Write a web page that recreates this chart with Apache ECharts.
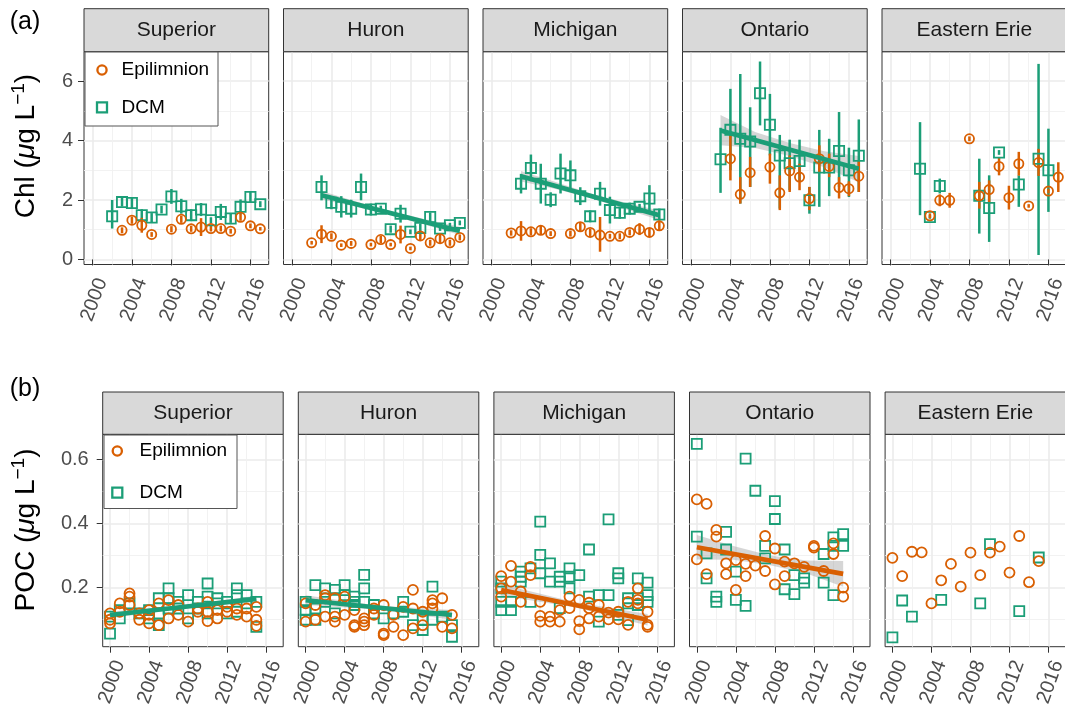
<!DOCTYPE html>
<html>
<head>
<meta charset="utf-8">
<script src="https://cdn.jsdelivr.net/npm/echarts@6/dist/echarts.min.js"></script>
<style>
html, body { margin: 0; padding: 0; background: #ffffff; }
#chart { width: 1065px; height: 711px; }
</style>
</head>
<body>
<div id="chart"></div>
<script>
// ---------- categories and tick labels ----------
const lakes = ['Superior', 'Huron', 'Michigan', 'Ontario', 'Eastern Erie'];
const layerNames = ['Epilimnion', 'DCM'];
const yearTicks = [2000, 2004, 2008, 2012, 2016];
const yearMinor = [2002, 2006, 2010, 2014];
const chlTicks = [0, 2, 4, 6];
const chlMinor = [1, 3, 5];
const pocTicks = [0.2, 0.4, 0.6];
const pocMinor = [0.1, 0.3, 0.5];

// ---------- (a) chlorophyll: [year, mean, low, high] ----------
const chlSupEpi = [[2003,0.98,0.88,1.08],[2004,1.32,1.20,1.44],[2005,1.15,0.90,1.40],[2006,0.84,0.76,0.92],[2008,1.02,0.92,1.12],[2009,1.35,1.23,1.47],[2010,1.03,0.93,1.13],[2011,1.09,0.79,1.39],[2012,1.04,0.94,1.14],[2013,1.04,0.94,1.14],[2014,0.95,0.87,1.03],[2015,1.42,1.30,1.54],[2016,1.13,1.05,1.21],[2017,1.03,0.97,1.09]];
const chlSupDcm = [[2002,1.45,1.04,2.00],[2003,1.93,1.78,2.08],[2004,1.90,1.70,2.10],[2005,1.49,1.29,1.69],[2006,1.41,1.26,1.56],[2007,1.68,1.55,1.81],[2008,2.12,1.87,2.37],[2009,1.79,1.54,2.04],[2010,1.49,1.29,1.69],[2011,1.68,1.46,1.90],[2012,1.32,1.22,1.42],[2013,1.60,1.33,1.87],[2014,1.38,1.23,1.53],[2015,1.77,1.52,2.02],[2016,2.10,1.92,2.28],[2017,1.86,1.76,1.96]];
const chlHurEpi = [[2002,0.56,0.50,0.62],[2003,0.85,0.55,1.15],[2004,0.78,0.68,0.88],[2005,0.48,0.42,0.54],[2006,0.54,0.46,0.62],[2008,0.50,0.44,0.56],[2009,0.67,0.55,0.79],[2010,0.50,0.44,0.56],[2011,0.84,0.54,1.14],[2012,0.37,0.31,0.43],[2013,0.79,0.64,0.94],[2014,0.56,0.46,0.66],[2015,0.70,0.55,0.85],[2016,0.56,0.46,0.66],[2017,0.74,0.64,0.84]];
const chlHurDcm = [[2003,2.44,1.99,2.83],[2004,1.91,1.69,2.13],[2005,1.77,1.41,2.13],[2006,1.71,1.41,2.01],[2007,2.44,1.99,2.89],[2008,1.68,1.48,1.88],[2009,1.71,1.61,1.81],[2010,1.02,0.90,1.14],[2011,1.54,1.24,1.84],[2012,0.93,0.85,1.01],[2013,1.06,0.91,1.21],[2014,1.43,1.28,1.58],[2015,1.04,0.96,1.12],[2016,1.15,1.07,1.23],[2017,1.23,1.15,1.31]];
const chlMicEpi = [[2002,0.89,0.80,0.98],[2003,0.96,0.63,1.29],[2004,0.93,0.81,1.05],[2005,0.98,0.83,1.13],[2006,0.87,0.79,0.95],[2008,0.87,0.77,0.97],[2009,1.10,0.95,1.25],[2010,0.91,0.79,1.03],[2011,0.82,0.26,1.43],[2012,0.78,0.70,0.86],[2013,0.78,0.68,0.88],[2014,0.91,0.81,1.01],[2015,1.02,0.82,1.22],[2016,0.91,0.76,1.06],[2017,1.13,0.98,1.28]];
const chlMicDcm = [[2003,2.55,2.22,2.88],[2004,3.08,2.63,3.53],[2005,2.55,1.88,3.22],[2006,2.01,1.76,2.26],[2007,2.89,2.22,3.56],[2008,2.83,2.33,3.33],[2009,2.13,1.83,2.43],[2010,1.45,1.25,1.65],[2011,2.21,1.81,2.61],[2012,1.66,1.21,2.11],[2013,1.57,1.37,1.77],[2014,1.71,1.51,1.91],[2015,1.77,1.67,1.87],[2016,2.05,1.60,2.50],[2017,1.51,1.31,1.71]];
const chlOntEpi = [[2004,3.39,2.66,4.23],[2005,2.19,1.88,2.77],[2006,2.92,2.44,3.45],[2008,3.11,2.55,3.56],[2009,2.24,1.66,2.83],[2010,2.98,2.27,3.50],[2011,2.77,2.33,3.22],[2012,2.05,1.66,2.44],[2013,3.39,2.94,3.84],[2014,3.13,2.77,3.56],[2015,2.42,2.05,2.77],[2016,2.38,2.13,2.63],[2017,2.80,2.27,3.33]];
const chlOntDcm = [[2003,3.37,2.24,4.43],[2004,4.36,3.00,5.74],[2005,4.06,1.88,6.24],[2006,3.97,2.44,5.12],[2007,5.59,4.51,6.66],[2008,4.53,3.50,5.57],[2009,3.50,1.71,4.19],[2010,3.24,2.33,4.03],[2011,3.31,2.61,4.03],[2012,1.99,1.54,2.44],[2013,3.09,1.77,4.36],[2014,3.09,2.13,4.06],[2015,3.65,2.44,4.96],[2016,3.00,2.10,3.76],[2017,3.49,2.27,4.71]];
const chlEriEpi = [[2004,1.47,1.39,1.55],[2005,1.99,1.79,2.19],[2006,1.99,1.74,2.24],[2008,4.06,3.98,4.14],[2009,2.14,1.71,2.61],[2010,2.35,1.88,2.66],[2011,3.13,2.83,3.43],[2012,2.08,1.68,2.48],[2013,3.22,2.82,3.62],[2014,1.80,1.74,1.86],[2015,3.26,2.81,3.72],[2016,2.30,2.22,2.38],[2017,2.77,2.27,3.27]];
const chlEriDcm = [[2003,3.05,1.49,4.62],[2004,1.43,1.37,1.49],[2005,2.47,2.22,2.72],[2009,2.14,0.87,3.39],[2010,1.73,0.59,2.83],[2011,3.60,3.52,3.68],[2013,2.52,1.77,2.83],[2015,3.39,0.15,6.58],[2016,3.00,1.60,4.40]];

// linear trends [year, fit] and confidence bands [year, low, high]
const chlHurTrend = [[2003,2.16],[2017,0.96]];
const chlMicTrend = [[2003,2.80],[2017,1.49]];
const chlOntTrend = [[2003,4.34],[2017,3.05]];
const chlHurBand = [[2003,2.02,2.30],[2006.5,1.77,1.95],[2010,1.49,1.63],[2013.5,1.17,1.35],[2017,0.82,1.10]];
const chlMicBand = [[2003,2.62,2.98],[2006.5,2.37,2.61],[2010,2.07,2.23],[2013.5,1.70,1.92],[2017,1.33,1.65]];
const chlOntBand = [[2003,3.84,4.86],[2006.5,3.75,4.29],[2010,3.48,3.92],[2013.5,3.10,3.64],[2017,2.60,3.48]];

// ---------- (b) particulate organic carbon: [year, value] ----------
const pocSupEpi = [[2000,0.12],[2000,0.10],[2000,0.089],[2001,0.151],[2001,0.125],[2002,0.182],[2002,0.172],[2002,0.146],[2003,0.10],[2003,0.12],[2004,0.13],[2004,0.115],[2004,0.089],[2005,0.151],[2005,0.083],[2006,0.161],[2006,0.104],[2007,0.146],[2007,0.115],[2008,0.094],[2009,0.135],[2009,0.125],[2010,0.156],[2010,0.125],[2010,0.096],[2011,0.13],[2011,0.104],[2012,0.14],[2012,0.125],[2013,0.135],[2013,0.115],[2014,0.135],[2014,0.11],[2015,0.14],[2015,0.10],[2015,0.081]];
const pocSupDcm = [[2000,0.057],[2000,0.11],[2001,0.104],[2001,0.13],[2002,0.151],[2003,0.12],[2004,0.13],[2004,0.104],[2005,0.167],[2005,0.12],[2005,0.083],[2006,0.198],[2006,0.167],[2006,0.135],[2007,0.156],[2007,0.135],[2008,0.177],[2008,0.104],[2009,0.156],[2009,0.135],[2010,0.213],[2010,0.172],[2010,0.12],[2011,0.167],[2011,0.151],[2012,0.156],[2012,0.12],[2013,0.198],[2013,0.177],[2013,0.125],[2014,0.177],[2014,0.151],[2015,0.156],[2015,0.078]];
const pocHurEpi = [[2000,0.151],[2000,0.094],[2001,0.146],[2001,0.10],[2002,0.177],[2002,0.167],[2002,0.11],[2003,0.167],[2003,0.11],[2003,0.094],[2004,0.172],[2004,0.115],[2005,0.13],[2005,0.083],[2005,0.078],[2006,0.104],[2006,0.094],[2006,0.083],[2007,0.135],[2007,0.115],[2008,0.146],[2008,0.057],[2008,0.052],[2009,0.115],[2009,0.078],[2010,0.14],[2010,0.052],[2011,0.193],[2011,0.135],[2011,0.073],[2012,0.125],[2012,0.083],[2013,0.161],[2013,0.151],[2013,0.135],[2014,0.167],[2014,0.078],[2015,0.115],[2015,0.073]];
const pocHurDcm = [[2000,0.156],[2000,0.13],[2000,0.10],[2001,0.208],[2001,0.135],[2001,0.10],[2002,0.198],[2002,0.156],[2003,0.193],[2003,0.167],[2003,0.12],[2004,0.208],[2004,0.177],[2004,0.161],[2005,0.172],[2005,0.156],[2005,0.146],[2006,0.24],[2006,0.198],[2006,0.156],[2007,0.146],[2007,0.12],[2008,0.104],[2009,0.12],[2010,0.156],[2010,0.125],[2011,0.083],[2012,0.10],[2012,0.068],[2013,0.203],[2013,0.10],[2014,0.11],[2015,0.083],[2015,0.047]];
const pocMicEpi = [[2000,0.236],[2000,0.198],[2000,0.172],[2001,0.268],[2001,0.219],[2002,0.188],[2002,0.156],[2003,0.265],[2003,0.239],[2004,0.156],[2004,0.112],[2004,0.094],[2005,0.11],[2005,0.094],[2006,0.13],[2006,0.094],[2007,0.172],[2007,0.136],[2008,0.162],[2008,0.096],[2008,0.07],[2009,0.153],[2009,0.136],[2009,0.104],[2010,0.146],[2010,0.11],[2011,0.122],[2011,0.101],[2012,0.125],[2012,0.101],[2013,0.156],[2013,0.084],[2014,0.198],[2014,0.162],[2014,0.151],[2015,0.125],[2015,0.084],[2015,0.078]];
const pocMicDcm = [[2000,0.219],[2000,0.198],[2000,0.156],[2000,0.13],[2001,0.156],[2001,0.13],[2002,0.25],[2002,0.234],[2002,0.219],[2003,0.26],[2003,0.156],[2004,0.406],[2004,0.302],[2004,0.245],[2005,0.276],[2005,0.219],[2006,0.234],[2006,0.219],[2006,0.136],[2007,0.26],[2007,0.234],[2007,0.198],[2008,0.239],[2009,0.319],[2009,0.172],[2010,0.177],[2010,0.094],[2011,0.413],[2011,0.177],[2012,0.245],[2012,0.229],[2012,0.115],[2013,0.167],[2013,0.151],[2013,0.099],[2014,0.229],[2014,0.167],[2014,0.146],[2015,0.216],[2015,0.177],[2015,0.156]];
const pocOntEpi = [[2000,0.475],[2000,0.288],[2001,0.461],[2001,0.242],[2002,0.38],[2002,0.359],[2003,0.276],[2003,0.242],[2004,0.286],[2004,0.193],[2005,0.274],[2005,0.236],[2006,0.269],[2007,0.361],[2007,0.252],[2008,0.322],[2008,0.21],[2009,0.281],[2009,0.236],[2010,0.276],[2011,0.265],[2012,0.33],[2012,0.325],[2013,0.252],[2014,0.338],[2014,0.305],[2015,0.20],[2015,0.172]];
const pocOntDcm = [[2000,0.648],[2000,0.359],[2001,0.307],[2001,0.229],[2002,0.172],[2002,0.156],[2003,0.374],[2003,0.319],[2004,0.25],[2004,0.162],[2005,0.602],[2005,0.143],[2006,0.502],[2007,0.33],[2007,0.291],[2008,0.47],[2008,0.414],[2009,0.319],[2009,0.195],[2010,0.239],[2010,0.18],[2011,0.229],[2011,0.216],[2013,0.305],[2013,0.216],[2014,0.357],[2014,0.33],[2014,0.177],[2015,0.367],[2015,0.33]];
const pocEriEpi = [[2000,0.293],[2001,0.236],[2002,0.312],[2003,0.31],[2004,0.151],[2005,0.223],[2006,0.274],[2007,0.203],[2008,0.309],[2009,0.239],[2010,0.309],[2011,0.328],[2012,0.247],[2013,0.361],[2014,0.217],[2015,0.283]];
const pocEriDcm = [[2000,0.045],[2001,0.16],[2002,0.11],[2005,0.162],[2009,0.151],[2010,0.336],[2013,0.127],[2015,0.294]];

const pocSupTrend = [[2000,0.115],[2015,0.165]];
const pocHurTrend = [[2000,0.161],[2015,0.115]];
const pocMicTrend = [[2000,0.193],[2015,0.100]];
const pocOntTrend = [[2000,0.326],[2015,0.243]];
const pocSupBand = [[2000,0.105,0.125],[2007.5,0.135,0.145],[2015,0.155,0.175]];
const pocHurBand = [[2000,0.146,0.176],[2007.5,0.132,0.144],[2015,0.100,0.130]];
const pocMicBand = [[2000,0.175,0.211],[2007.5,0.139,0.155],[2015,0.082,0.118]];
const pocOntBand = [[2000,0.288,0.364],[2003.75,0.287,0.330],[2007.5,0.270,0.300],[2011.25,0.244,0.285],[2015,0.203,0.283]];

// ---------- styling ----------
const ORANGE = '#D95F02';
const GREEN = '#1B9E77';
const FONT = '"Liberation Sans", Arial, Helvetica, sans-serif';
const BORDER = '#333333';

const chlPanels = [
  { epi: chlSupEpi, dcm: chlSupDcm },
  { epi: chlHurEpi, dcm: chlHurDcm, trend: chlHurTrend, band: chlHurBand, trendColor: GREEN },
  { epi: chlMicEpi, dcm: chlMicDcm, trend: chlMicTrend, band: chlMicBand, trendColor: GREEN },
  { epi: chlOntEpi, dcm: chlOntDcm, trend: chlOntTrend, band: chlOntBand, trendColor: GREEN },
  { epi: chlEriEpi, dcm: chlEriDcm }
];
const pocPanels = [
  { epi: pocSupEpi, dcm: pocSupDcm, trend: pocSupTrend, band: pocSupBand, trendColor: GREEN },
  { epi: pocHurEpi, dcm: pocHurDcm, trend: pocHurTrend, band: pocHurBand, trendColor: GREEN },
  { epi: pocMicEpi, dcm: pocMicDcm, trend: pocMicTrend, band: pocMicBand, trendColor: ORANGE },
  { epi: pocOntEpi, dcm: pocOntDcm, trend: pocOntTrend, band: pocOntBand, trendColor: ORANGE },
  { epi: pocEriEpi, dcm: pocEriDcm }
];

// facet rows: panel geometry and axis ranges
const rowA = { left: 84, step: 199.5, width: 184.7, top: 51.7, height: 212.8, stripTop: 8.7,
  xMin: 1999.15, xMax: 2017.85, yMin: -0.17, yMax: 6.99,
  yTicks: chlTicks, yMinor: chlMinor, yFmt: v => String(v), yMargin: 11, errorBars: true,
  circleSize: 9.2, squareSize: 10.2 };
const rowB = { left: 102.7, step: 195.6, width: 180.5, top: 434.3, height: 212.4, stripTop: 392,
  xMin: 1999.25, xMax: 2017.75, yMin: 0.016, yMax: 0.678,
  yTicks: pocTicks, yMinor: pocMinor, yFmt: v => v.toFixed(1), yMargin: 14, errorBars: false,
  circleSize: 10, squareSize: 10 };

const grids = [], xAxes = [], yAxes = [], series = [], elements = [];

function errorBarSeries(ax, data, color) {
  return {
    type: 'custom', xAxisIndex: ax, yAxisIndex: ax, silent: true,
    data: data.map(d => [d[0], d[2], d[3]]),
    encode: { x: 0, y: [1, 2] },
    renderItem: function (params, api) {
      const p1 = api.coord([api.value(0), api.value(1)]);
      const p2 = api.coord([api.value(0), api.value(2)]);
      return { type: 'line', shape: { x1: p1[0], y1: p1[1], x2: p2[0], y2: p2[1] },
        style: { stroke: color, lineWidth: 2.5 } };
    }
  };
}

function scatterSeries(ax, name, data, symbol, size, color) {
  return {
    type: 'scatter', name: name, xAxisIndex: ax, yAxisIndex: ax, silent: true,
    data: data.map(d => [d[0], d[1]]),
    symbol: symbol, symbolSize: size,
    itemStyle: { color: 'rgba(0,0,0,0)', borderColor: color, borderWidth: 1.8, opacity: 1 }
  };
}

function bandSeries(ax, band) {
  return {
    type: 'custom', xAxisIndex: ax, yAxisIndex: ax, silent: true,
    data: band, encode: { x: 0, y: [1, 2] },
    renderItem: function (params, api) {
      if (params.dataIndex !== 0) return null;
      const upper = band.map(d => api.coord([d[0], d[2]]));
      const lower = band.map(d => api.coord([d[0], d[1]])).reverse();
      return { type: 'polygon', shape: { points: upper.concat(lower) },
        style: { fill: 'rgba(153,153,153,0.4)' } };
    }
  };
}

function addRow(row, panels) {
  panels.forEach(function (panel, i) {
    const g = grids.length;
    const left = row.left + i * row.step;
    grids.push({ left: left, top: row.top, width: row.width, height: row.height,
      show: true, borderColor: BORDER, borderWidth: 1, backgroundColor: '#ffffff',
      containLabel: false, outerBoundsMode: 'none' });

    const xBase = { type: 'value', gridIndex: g, min: row.xMin, max: row.xMax, axisLine: { show: false } };
    xAxes.push(Object.assign({}, xBase, {
      position: 'bottom',
      axisTick: { show: true, length: 6, lineStyle: { color: BORDER, width: 1 }, customValues: yearTicks },
      axisLabel: { show: true, customValues: yearTicks, rotate: 70, margin: 11, verticalAlign: 'top',
        fontSize: 20, color: '#4D4D4D', fontFamily: FONT, formatter: v => String(v) },
      splitLine: { show: true, lineStyle: { color: '#EBEBEB', width: 1.6 } }
    }));
    xAxes.push(Object.assign({}, xBase, {
      axisTick: { show: false, customValues: yearMinor },
      axisLabel: { show: false },
      splitLine: { show: true, lineStyle: { color: '#F1F1F1', width: 0.9 } }
    }));

    const first = i === 0;
    const yBase = { type: 'value', gridIndex: g, min: row.yMin, max: row.yMax, axisLine: { show: false } };
    yAxes.push(Object.assign({}, yBase, {
      position: 'left',
      axisTick: { show: first, length: 6, lineStyle: { color: BORDER, width: 1 }, customValues: row.yTicks },
      axisLabel: { show: first, customValues: row.yTicks, margin: row.yMargin, fontSize: 20, color: '#4D4D4D',
        fontFamily: FONT, formatter: row.yFmt },
      splitLine: { show: true, lineStyle: { color: '#EBEBEB', width: 1.6 } }
    }));
    yAxes.push(Object.assign({}, yBase, {
      axisTick: { show: false, customValues: row.yMinor },
      axisLabel: { show: false },
      splitLine: { show: true, lineStyle: { color: '#F1F1F1', width: 0.9 } }
    }));

    const ax = 2 * g;
    if (panel.band) series.push(bandSeries(ax, panel.band));
    if (row.errorBars) series.push(errorBarSeries(ax, panel.dcm, GREEN));
    series.push(scatterSeries(ax, layerNames[1], panel.dcm, 'rect', row.squareSize, GREEN));
    if (row.errorBars) series.push(errorBarSeries(ax, panel.epi, ORANGE));
    series.push(scatterSeries(ax, layerNames[0], panel.epi, 'circle', row.circleSize, ORANGE));
    if (panel.trend) {
      series.push({ type: 'line', xAxisIndex: ax, yAxisIndex: ax, silent: true,
        data: panel.trend, symbol: 'none', showSymbol: false,
        lineStyle: { color: panel.trendColor, width: 4.6 } });
    }

    // facet strip
    elements.push({ type: 'rect', z: 50,
      shape: { x: left, y: row.stripTop, width: row.width, height: row.top - row.stripTop },
      style: { fill: '#D9D9D9', stroke: BORDER, lineWidth: 1 } });
    elements.push({ type: 'text', z: 51, x: left + row.width / 2, y: (row.stripTop + row.top) / 2,
      style: { text: lakes[i], fontSize: 21, fontFamily: FONT, fill: '#1A1A1A',
        align: 'center', verticalAlign: 'middle', textAlign: 'center', textVerticalAlign: 'middle' } });
  });
}

addRow(rowA, chlPanels);
addRow(rowB, pocPanels);

function addLegend(box, keyX, epiY, dcmY, textX) {
  elements.push({ type: 'rect', z: 60, shape: box, style: { fill: '#ffffff', stroke: '#555555', lineWidth: 1 } });
  elements.push({ type: 'circle', z: 61, shape: { cx: keyX, cy: epiY, r: 4.6 },
    style: { fill: 'none', stroke: ORANGE, lineWidth: 2.3 } });
  elements.push({ type: 'rect', z: 61, shape: { x: keyX - 5, y: dcmY - 5, width: 10, height: 10 },
    style: { fill: 'none', stroke: GREEN, lineWidth: 2.3 } });
  [[layerNames[0], epiY], [layerNames[1], dcmY]].forEach(function (t) {
    elements.push({ type: 'text', z: 61, x: textX, y: t[1],
      style: { text: t[0], fontSize: 19, fontFamily: FONT, fill: '#000000',
        align: 'left', verticalAlign: 'middle', textAlign: 'left', textVerticalAlign: 'middle' } });
  });
}
addLegend({ x: 85, y: 52, width: 133, height: 74 }, 102, 70, 107.3, 121.5);
addLegend({ x: 104, y: 435, width: 133, height: 73.5 }, 117.3, 451, 492.7, 139.5);

function axisTitle(label, cx, cy) {
  const rich = {
    a: { fontSize: 28, fontFamily: FONT, fill: '#000000', lineHeight: 34 },
    m: { fontSize: 28, fontFamily: FONT, fontStyle: 'italic', fill: '#000000', lineHeight: 34 },
    s: { fontSize: 19, fontFamily: FONT, fill: '#000000', lineHeight: 17, verticalAlign: 'top' }
  };
  elements.push({ type: 'text', z: 70, x: cx, y: cy, rotation: Math.PI / 2,
    style: { text: '{a|' + label + ' (}{m|μ}{a|g L}{s|−1}{a|)}', rich: rich,
      align: 'center', verticalAlign: 'middle', textAlign: 'center', textVerticalAlign: 'middle' } });
}
axisTitle('Chl', 26, 146);
axisTitle('POC', 26, 530);

[['(a)', 22], ['(b)', 389]].forEach(function (t) {
  elements.push({ type: 'text', z: 70, x: 25, y: t[1],
    style: { text: t[0], fontSize: 25, fontFamily: FONT, fill: '#000000',
      align: 'center', verticalAlign: 'middle', textAlign: 'center', textVerticalAlign: 'middle' } });
});

const chart = echarts.init(document.getElementById('chart'), null, { renderer: 'canvas' });
chart.setOption({
  animation: false,
  backgroundColor: '#ffffff',
  grid: grids,
  xAxis: xAxes,
  yAxis: yAxes,
  series: series,
  graphic: { elements: elements }
});
</script>
</body>
</html>
